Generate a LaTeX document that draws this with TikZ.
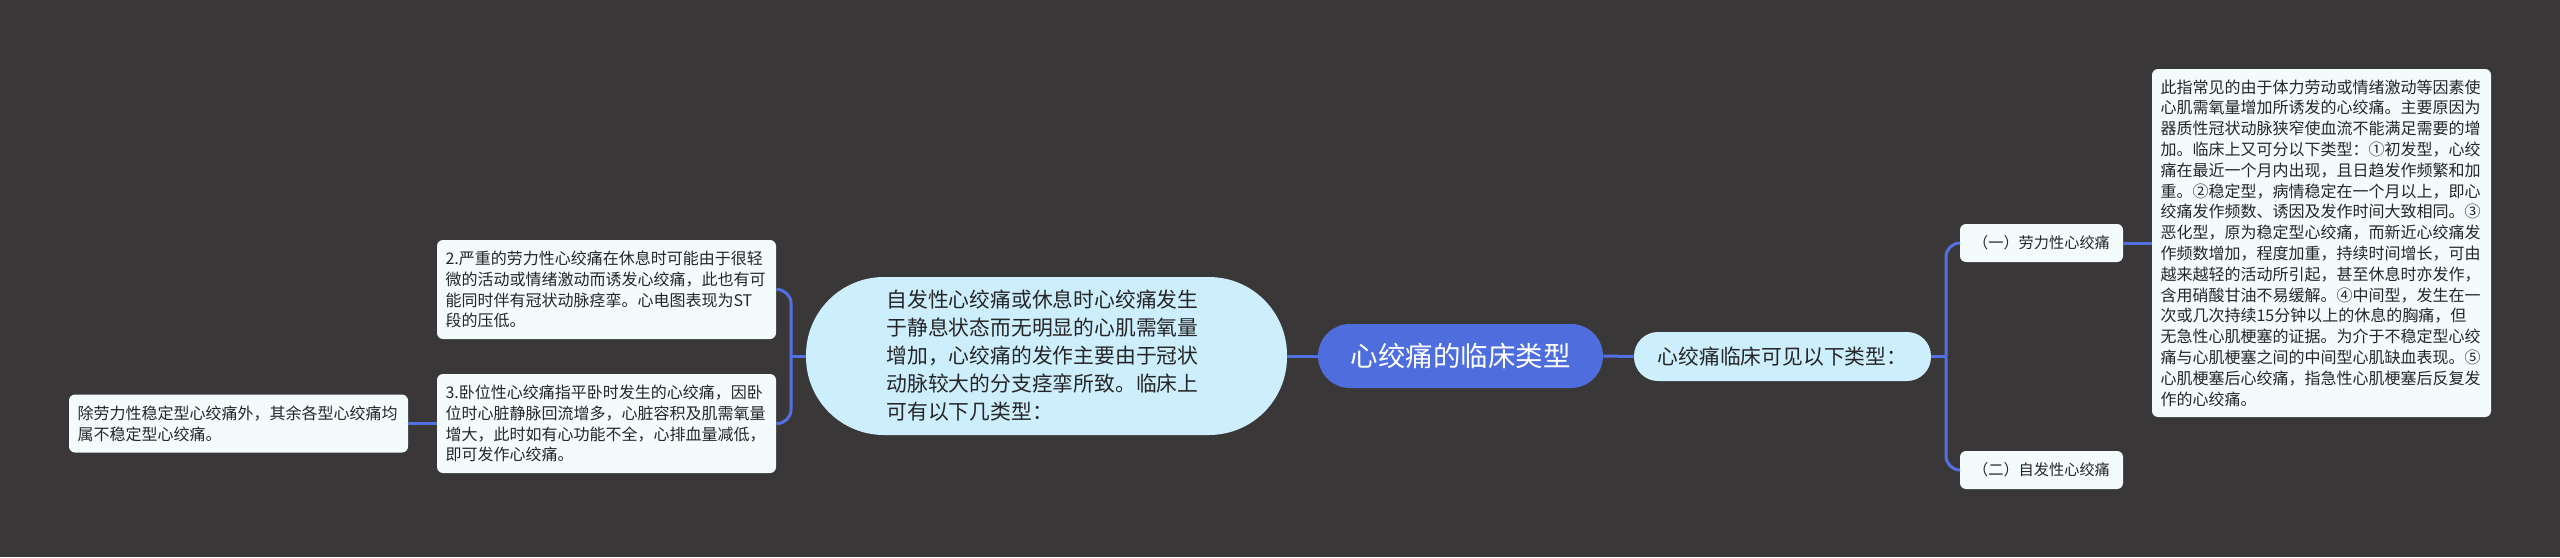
\documentclass[tikz,border=0pt]{standalone}
\usepackage{fontspec}
\setmainfont{Noto Sans CJK SC}
\definecolor{bgc}{RGB}{57,55,55}
\definecolor{rootc}{RGB}{79,110,222}
\definecolor{linec}{RGB}{82,112,226}
\definecolor{pillc}{RGB}{204,238,253}
\definecolor{leafc}{RGB}{243,251,253}
\definecolor{txt}{RGB}{38,38,38}
\begin{document}
\begin{tikzpicture}[x=0.5pt,y=-0.5pt,
  leaf/.style={fill=leafc, text=txt, rounded corners=3pt, align=left, text width=161pt,
    inner xsep=4.25pt, inner ysep=0pt, font=\fontsize{8}{10.4}\selectfont},
  pill/.style={fill=pillc, text=txt, inner sep=0pt, font=\fontsize{10.4}{14}\selectfont},
  conn/.style={draw=linec, line width=1.5pt}]
\fill[bgc] (0,0) rectangle (2560,557);
\useasboundingbox (0,0) rectangle (2560,557);

% root
\node[fill=rootc, text=white, rounded corners=16pt, minimum width=142.5pt, minimum height=32pt,
  inner sep=0pt, font=\fontsize{13.75}{16}\selectfont] (root) at (1460.5,356) {心绞痛的临床类型};

% right side
\node[pill, rounded corners=12pt, minimum width=148.5pt, minimum height=24.5pt] (lc) at (1782.5,356.5) {心绞痛临床可见以下类型：};
\node[fill=leafc, text=txt, rounded corners=3pt, minimum width=81.5pt, minimum height=19pt, inner sep=0pt,
  font=\fontsize{7.6}{9}\selectfont] (one) at (2041.5,243) {（一）劳力性心绞痛};
\node[fill=leafc, text=txt, rounded corners=3pt, minimum width=81.5pt, minimum height=19pt, inner sep=0pt,
  font=\fontsize{7.6}{9}\selectfont] (two) at (2041.5,470) {（二）自发性心绞痛};
\node[leaf, minimum height=174pt] (big) at (2321.5,243) {此指常见的由于体力劳动或情绪激动等因素使\\
心肌需氧量增加所诱发的心绞痛。主要原因为\\
器质性冠状动脉狭窄使血流不能满足需要的增\\
加。临床上又可分以下类型：①初发型，心绞\\
痛在最近一个月内出现，且日趋发作频繁和加\\
重。②稳定型，病情稳定在一个月以上，即心\\
绞痛发作频数、诱因及发作时间大致相同。③\\
恶化型，原为稳定型心绞痛，而新近心绞痛发\\
作频数增加，程度加重，持续时间增长，可由\\
越来越轻的活动所引起，甚至休息时亦发作，\\
含用硝酸甘油不易缓解。④中间型，发生在一\\
次或几次持续15分钟以上的休息的胸痛，但\\
无急性心肌梗塞的证据。为介于不稳定型心绞\\
痛与心肌梗塞之间的中间型心肌缺血表现。⑤\\
心肌梗塞后心绞痛，指急性心肌梗塞后反复发\\
作的心绞痛。};

% left side
\node[pill, rounded corners=39pt, minimum width=240.5pt, minimum height=79pt, align=left, text width=160pt] (zifa) at (1046.5,356) {自发性心绞痛或休息时心绞痛发生\\
于静息状态而无明显的心肌需氧量\\
增加，心绞痛的发作主要由于冠状\\
动脉较大的分支痉挛所致。临床上\\
可有以下几类型：};
\node[leaf, minimum height=49.5pt] (box2) at (606.5,289.5) {2.严重的劳力性心绞痛在休息时可能由于很轻\\
微的活动或情绪激动而诱发心绞痛，此也有可\\
能同时伴有冠状动脉痉挛。心电图表现为ST\\
段的压低。};
\node[leaf, minimum height=49.5pt] (box3) at (606.5,423.5) {3.卧位性心绞痛指平卧时发生的心绞痛，因卧\\
位时心脏静脉回流增多，心脏容积及肌需氧量\\
增大，此时如有心功能不全，心排血量减低，\\
即可发作心绞痛。};
\node[leaf, minimum height=29pt] (chu) at (238.5,423.5) {除劳力性稳定型心绞痛外，其余各型心绞痛均\\
属不稳定型心绞痛。};

% connectors
\draw[conn] (zifa.east) -- (root.west);
\draw[conn] (root.east) -- (lc.west);
\coordinate (jr) at (1946,356.5);
\draw[conn] (lc.east) -- (jr);
\draw[conn, rounded corners=7pt] (jr) |- (one.west);
\draw[conn, rounded corners=7pt] (jr) |- (two.west);
\draw[conn] (one.east) -- (big.west);
\coordinate (jl) at (791,356);
\draw[conn] (zifa.west) -- (jl);
\draw[conn, rounded corners=7pt] (jl) |- (box2.east);
\draw[conn, rounded corners=7pt] (jl) |- (box3.east);
\draw[conn] (box3.west) -- (chu.east);
\end{tikzpicture}
\end{document}
